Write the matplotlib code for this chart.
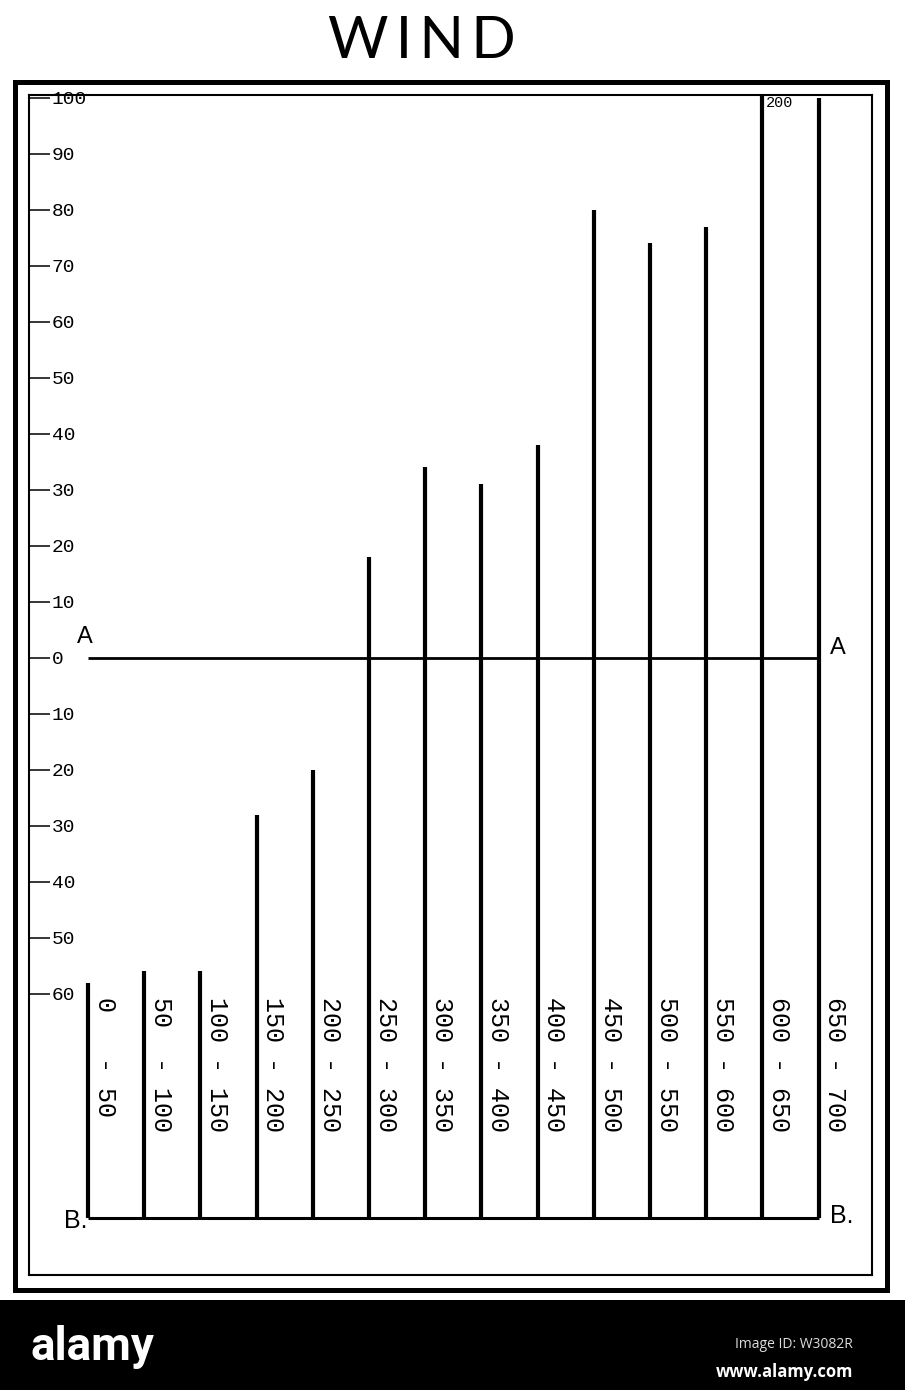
import matplotlib.pyplot as plt
from matplotlib.patches import Rectangle

# wind classes and the height of each line (off-scale ones run to the top)
lows = [0, 50, 100, 150, 200, 250, 300, 350, 400, 450, 500, 550, 600, 650]
highs = [50, 100, 150, 200, 250, 300, 350, 400, 450, 500, 550, 600, 650, 700]
values = [-58, -56, -56, -28, -20, 18, 34, 31, 38, 80, 74, 77, 200, 100]

tick_values = [100, 90, 80, 70, 60, 50, 40, 30, 20, 10, 0,
               -10, -20, -30, -40, -50, -60]
tick_labels = ["100", "90", "80", "70", "60", "50", "40", "30", "20", "10", "0",
               "10", "20", "30", "40", "50", "60"]

W, H = 905, 1390
mono = ['Liberation Mono', 'DejaVu Sans Mono']
sans = ['Liberation Sans', 'DejaVu Sans']

fig = plt.figure(figsize=(W / 100, H / 100), dpi=100)
fig.patch.set_facecolor('white')

# inner frame = axes
ax = fig.add_axes([29 / W, 1 - 1275 / H, (872 - 29) / W, (1275 - 95) / H])
x = list(range(len(values)))
ax.vlines(x, -100, values, colors='black', lw=3)
ax.hlines(0, x[0], x[-1], colors='black', lw=2)
ax.hlines(-100, x[0], x[-1], colors='black', lw=2.2)

ax.set_xlim(-1.05, 13.95)
ax.set_ylim(-110.2, 100.5)
ax.set_xticks([])
ax.set_yticks(tick_values)
ax.set_yticklabels(tick_labels, family=mono, fontsize=14, ha='left')
ax.tick_params(axis='y', direction='in', length=15, width=1.1, pad=-16.5)
for sp in ax.spines.values():
    sp.set_linewidth(1.5)

# class labels written downwards beside each line
for i, (lo, hi) in enumerate(zip(lows, highs)):
    ax.text(i + 0.3, -60.5, f"{lo:<3} - {hi}", rotation=-90, ha='center',
            va='top', fontsize=18, family=mono)

ax.text(12.07, 100.3, "200", ha='left', va='top', fontsize=11, family=mono)

ax.text(-0.05, 3.8, "A", ha='center', va='center', fontsize=17, family=sans)
ax.text(13.35, 1.8, "A", ha='center', va='center', fontsize=17, family=sans)
ax.text(-0.21, -100.5, "B.", ha='center', va='center', fontsize=18, family=sans)
ax.text(13.42, -99.6, "B.", ha='center', va='center', fontsize=18, family=sans)

# outer thick frame
fig.add_artist(Rectangle((15 / W, 1 - 1290 / H), 872 / W, 1208 / H, fill=False,
                         lw=3.6, ec='black', transform=fig.transFigure))

fig.text(0.466, 1 - 41 / H, "W\u2009I\u2009N\u2009D", ha='center', va='center',
         fontsize=42, fontweight='normal', family=['Lato', 'DejaVu Sans'])

# watermark band
fig.add_artist(Rectangle((0, 0), 1, 90 / H, color='black', lw=0,
                         transform=fig.transFigure))
fig.text(30 / W, 1 - 1347 / H, "alamy", ha='left', va='center', color='white',
         fontsize=33, fontweight='bold',
         family=['Liberation Sans Narrow', 'Roboto', 'DejaVu Sans'])
fig.text(853 / W, 1 - 1345 / H, "Image ID: W3082R", ha='right', va='center',
         color='#dddddd', fontsize=10, family=['Open Sans', 'DejaVu Sans'])
fig.text(853 / W, 1 - 1372 / H, "www.alamy.com", ha='right', va='center',
         color='white', fontsize=12, fontweight='bold',
         family=['Open Sans', 'DejaVu Sans'])

fig.savefig("out.png", dpi=100)
